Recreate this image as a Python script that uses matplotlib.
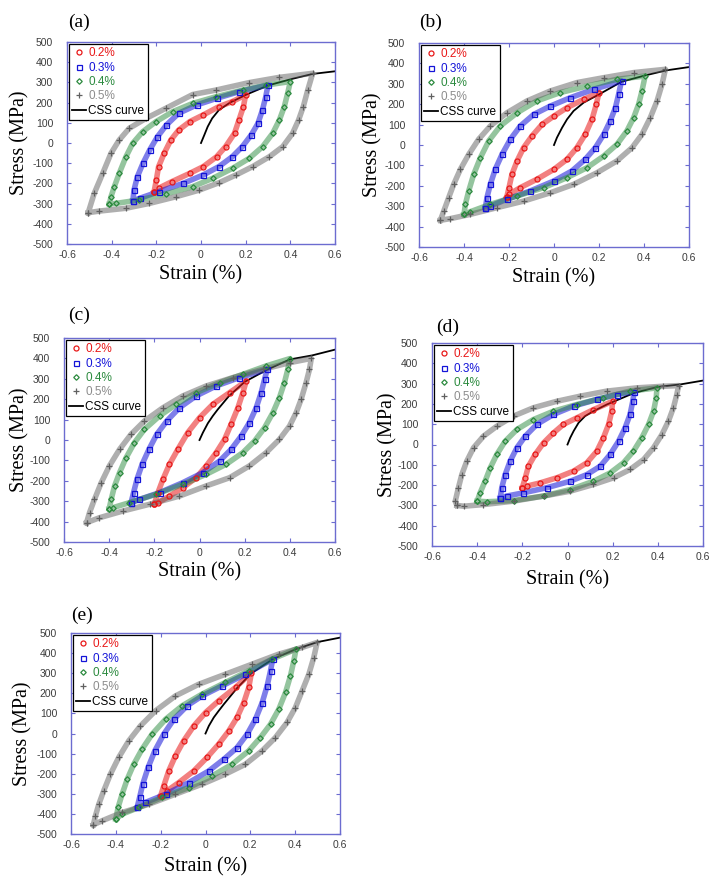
import numpy as np
import matplotlib
matplotlib.use("Agg")
import matplotlib.pyplot as plt
from matplotlib.lines import Line2D

plt.rcParams['axes.unicode_minus'] = False

amps = ["0.2%", "0.3%", "0.4%", "0.5%"]

# loops: loading branch (bottom tip -> top tip), then unloading branch back
strain_a = {
    "0.2%": [-0.21, -0.20, -0.19, -0.165, -0.135, -0.10, -0.05, 0.01, 0.08, 0.14, 0.20,
             0.19, 0.17, 0.15, 0.11, 0.07, 0.01, -0.05, -0.13, -0.19, -0.21],
    "0.3%": [-0.305, -0.30, -0.285, -0.26, -0.23, -0.195, -0.155, -0.10, -0.02, 0.07, 0.17, 0.30,
             0.29, 0.275, 0.255, 0.225, 0.185, 0.14, 0.08, 0.01, -0.08, -0.19, -0.275, -0.305],
    "0.4%": [-0.41, -0.403, -0.388, -0.366, -0.336, -0.306, -0.261, -0.201, -0.127, -0.037, 0.067, 0.187, 0.291, 0.40,
             0.388, 0.373, 0.351, 0.321, 0.276, 0.216, 0.142, 0.052, -0.037, -0.157, -0.276, -0.381, -0.41],
    "0.5%": [-0.505, -0.478, -0.44, -0.403, -0.366, -0.321, -0.246, -0.157, -0.037, 0.067, 0.216, 0.351, 0.50,
             0.478, 0.458, 0.437, 0.41, 0.366, 0.306, 0.231, 0.157, 0.082, -0.007, -0.112, -0.231, -0.336, -0.455, -0.505],
}
stress_a = {
    "0.2%": [-241, -183, -117, -51, 15, 64, 106, 139, 180, 205, 238,
             180, 114, 48, -18, -68, -117, -150, -191, -224, -241],
    "0.3%": [-285, -233, -167, -101, -35, 31, 89, 147, 188, 221, 254, 287,
             229, 163, 97, 40, -18, -68, -117, -158, -200, -241, -274, -285],
    "0.4%": [-302, -266, -216, -150, -68, -2, 56, 106, 155, 196, 229, 262, 287, 304,
             246, 180, 114, 48, -18, -76, -125, -175, -216, -252, -282, -299, -302],
    "0.5%": [-345, -249, -150, -51, 15, 73, 122, 172, 240, 262, 299, 325, 345,
             262, 180, 114, 48, -18, -68, -117, -158, -196, -233, -266, -299, -323, -337, -345],
}
css_strain_a = [0, 0.015, 0.03, 0.05, 0.08, 0.13, 0.20, 0.30, 0.41, 0.50, 0.60]
css_stress_a = [0, 40, 81, 122, 163, 200, 238, 285, 318, 342, 355]

strain_b = {
    "0.2%": [-0.21, -0.20, -0.187, -0.164, -0.135, -0.098, -0.053, 0.0, 0.058, 0.132, 0.20,
             0.188, 0.169, 0.139, 0.102, 0.058, 0.0, -0.076, -0.15, -0.20, -0.21],
    "0.3%": [-0.305, -0.298, -0.283, -0.261, -0.231, -0.194, -0.15, -0.09, -0.016, 0.073, 0.176, 0.30,
             0.287, 0.273, 0.25, 0.221, 0.184, 0.139, 0.08, 0.0, -0.105, -0.209, -0.283, -0.305],
    "0.4%": [-0.40, -0.394, -0.379, -0.357, -0.327, -0.29, -0.239, -0.164, -0.076, 0.028, 0.147, 0.28, 0.405,
             0.391, 0.376, 0.354, 0.324, 0.28, 0.221, 0.147, 0.058, -0.046, -0.164, -0.283, -0.372, -0.40],
    "0.5%": [-0.505, -0.49, -0.468, -0.446, -0.416, -0.379, -0.335, -0.283, -0.209, -0.12, -0.016, 0.102, 0.221, 0.354, 0.495,
             0.48, 0.458, 0.428, 0.391, 0.347, 0.28, 0.191, 0.087, -0.016, -0.135, -0.253, -0.372, -0.461, -0.505],
}
stress_b = {
    "0.2%": [-255, -209, -144, -78, -13, 44, 101, 142, 183, 224, 257,
             199, 126, 52, -13, -70, -119, -168, -209, -242, -255],
    "0.3%": [-307, -258, -193, -119, -46, 28, 93, 150, 191, 232, 273, 314,
             248, 183, 118, 52, -13, -70, -127, -176, -225, -266, -299, -307],
    "0.4%": [-340, -291, -225, -144, -62, 20, 93, 158, 216, 257, 289, 322, 338,
             265, 199, 134, 69, 3, -54, -111, -160, -209, -250, -291, -327, -340],
    "0.5%": [-369, -324, -258, -193, -119, -46, 28, 93, 158, 216, 265, 306, 330, 355, 371,
             297, 216, 134, 52, -13, -78, -136, -193, -234, -275, -307, -340, -361, -369],
}
css_strain_b = [0, 0.013, 0.036, 0.058, 0.087, 0.132, 0.20, 0.30, 0.405, 0.50, 0.60]
css_stress_b = [0, 36, 85, 126, 167, 208, 248, 310, 341, 366, 382]

strain_c = {
    "0.2%": [-0.20, -0.184, -0.162, -0.133, -0.096, -0.052, 0.0, 0.059, 0.133, 0.207,
             0.192, 0.17, 0.14, 0.111, 0.074, 0.03, -0.015, -0.074, -0.133, -0.184, -0.20],
    "0.3%": [-0.303, -0.292, -0.277, -0.254, -0.224, -0.189, -0.145, -0.089, -0.015, 0.074, 0.177, 0.30,
             0.288, 0.273, 0.251, 0.221, 0.185, 0.14, 0.089, 0.015, -0.074, -0.177, -0.266, -0.303],
    "0.4%": [-0.40, -0.391, -0.376, -0.354, -0.325, -0.288, -0.244, -0.177, -0.103, -0.015, 0.089, 0.192, 0.295, 0.40,
             0.391, 0.376, 0.354, 0.325, 0.288, 0.244, 0.192, 0.118, 0.03, -0.074, -0.192, -0.31, -0.384, -0.40],
    "0.5%": [-0.50, -0.487, -0.465, -0.435, -0.399, -0.354, -0.303, -0.244, -0.162, -0.074, 0.03, 0.148, 0.28, 0.399, 0.495,
             0.487, 0.472, 0.45, 0.428, 0.399, 0.354, 0.295, 0.221, 0.133, 0.03, -0.089, -0.221, -0.339, -0.443, -0.50],
}
stress_c = {
    "0.2%": [-315, -258, -193, -119, -46, 36, 109, 175, 232, 289,
             232, 158, 77, 3, -62, -127, -185, -234, -275, -307, -315],
    "0.3%": [-307, -258, -193, -119, -46, 28, 93, 158, 216, 265, 306, 346,
             297, 232, 158, 85, 20, -46, -103, -160, -209, -258, -291, -307],
    "0.4%": [-337, -291, -225, -160, -87, -13, 52, 118, 175, 232, 281, 322, 363, 399,
             346, 281, 208, 134, 60, -5, -62, -119, -168, -217, -266, -307, -332, -337],
    "0.5%": [-405, -356, -291, -209, -127, -46, 28, 93, 158, 216, 265, 306, 346, 379, 400,
             346, 281, 199, 134, 69, 3, -62, -127, -185, -225, -275, -315, -348, -381, -405],
}
css_strain_c = [0, 0.015, 0.037, 0.059, 0.081, 0.13, 0.20, 0.30, 0.40, 0.50, 0.60]
css_stress_c = [0, 36, 82, 118, 150, 215, 285, 345, 395, 415, 443]

strain_d = {
    "0.2%": [-0.20, -0.187, -0.173, -0.143, -0.106, -0.062, -0.018, 0.041, 0.115, 0.20,
             0.196, 0.182, 0.159, 0.13, 0.086, 0.027, -0.047, -0.121, -0.18, -0.20],
    "0.3%": [-0.298, -0.291, -0.276, -0.254, -0.224, -0.187, -0.136, -0.062, 0.027, 0.13, 0.218, 0.295,
             0.289, 0.277, 0.255, 0.226, 0.189, 0.145, 0.086, 0.012, -0.092, -0.195, -0.269, -0.298],
    "0.4%": [-0.40, -0.387, -0.365, -0.342, -0.313, -0.276, -0.224, -0.151, -0.062, 0.041, 0.159, 0.277, 0.396,
             0.393, 0.381, 0.359, 0.329, 0.292, 0.248, 0.189, 0.115, 0.012, -0.106, -0.239, -0.357, -0.40],
    "0.5%": [-0.49, -0.497, -0.483, -0.468, -0.446, -0.416, -0.372, -0.313, -0.239, -0.151, -0.047, 0.056, 0.174, 0.307, 0.425, 0.492,
             0.484, 0.469, 0.447, 0.418, 0.381, 0.337, 0.277, 0.204, 0.115, 0.012, -0.106, -0.239, -0.372, -0.46, -0.49],
}
stress_d = {
    "0.2%": [-213, -164, -107, -49, 8, 57, 99, 131, 172, 213,
             164, 99, 33, -33, -90, -131, -164, -189, -205, -213],
    "0.3%": [-263, -213, -148, -82, -16, 41, 99, 148, 189, 222, 246, 259,
             213, 148, 82, 16, -49, -107, -148, -181, -213, -238, -254, -263],
    "0.4%": [-279, -238, -181, -115, -49, 16, 74, 123, 164, 197, 230, 263, 279,
             230, 164, 99, 33, -33, -90, -140, -181, -222, -254, -276, -282, -279],
    "0.5%": [-300, -279, -213, -148, -82, -16, 41, 90, 140, 181, 213, 238, 263, 279, 287, 290,
             246, 181, 115, 49, -16, -74, -123, -164, -197, -230, -254, -279, -296, -304, -300],
}
css_strain_d = [0, 0.012, 0.027, 0.049, 0.078, 0.115, 0.174, 0.295, 0.40, 0.50, 0.60]
css_stress_d = [0, 33, 66, 107, 140, 164, 197, 254, 284, 296, 315]

strain_e = {
    "0.2%": [-0.20, -0.186, -0.164, -0.134, -0.097, -0.052, 0.0, 0.059, 0.134, 0.205,
             0.193, 0.171, 0.141, 0.104, 0.059, 0.007, -0.052, -0.119, -0.171, -0.20],
    "0.3%": [-0.305, -0.294, -0.28, -0.256, -0.226, -0.186, -0.141, -0.082, -0.015, 0.074, 0.178, 0.30,
             0.29, 0.275, 0.253, 0.223, 0.186, 0.141, 0.082, 0.015, -0.074, -0.178, -0.268, -0.305],
    "0.4%": [-0.40, -0.39, -0.372, -0.349, -0.32, -0.283, -0.238, -0.178, -0.104, -0.015, 0.089, 0.193, 0.297, 0.404,
             0.394, 0.379, 0.357, 0.327, 0.29, 0.245, 0.193, 0.119, 0.03, -0.074, -0.193, -0.297, -0.372, -0.40],
    "0.5%": [-0.50, -0.491, -0.476, -0.454, -0.424, -0.387, -0.342, -0.29, -0.223, -0.134, -0.03, 0.089, 0.208, 0.327, 0.431, 0.498,
             0.483, 0.461, 0.431, 0.401, 0.364, 0.312, 0.253, 0.178, 0.089, -0.015, -0.134, -0.253, -0.372, -0.461, -0.50],
}
stress_e = {
    "0.2%": [-310, -260, -186, -111, -36, 38, 104, 163, 229, 303,
             229, 154, 80, 13, -53, -119, -186, -244, -285, -310],
    "0.3%": [-368, -318, -252, -169, -86, -3, 71, 138, 187, 237, 295, 370,
             312, 237, 154, 71, -3, -70, -128, -186, -244, -302, -343, -368],
    "0.4%": [-426, -368, -302, -227, -153, -78, -3, 71, 138, 196, 254, 312, 370, 420,
             362, 287, 204, 121, 46, -20, -86, -153, -211, -269, -318, -368, -401, -426],
    "0.5%": [-454, -410, -352, -285, -202, -119, -36, 38, 113, 187, 245, 295, 345, 395, 428, 453,
             378, 295, 212, 129, 55, -20, -86, -153, -202, -252, -302, -352, -393, -434, -454],
}
css_strain_e = [0, 0.015, 0.037, 0.059, 0.082, 0.14, 0.205, 0.30, 0.404, 0.50, 0.60]
css_stress_e = [0, 38, 80, 113, 146, 225, 300, 370, 420, 455, 477]

x_ticks = [-0.6, -0.4, -0.2, 0, 0.2, 0.4, 0.6]
x_ticklabels = ["-0.6", "-0.4", "-0.2", "0", "0.2", "0.4", "0.6"]
y_ticks = [-500, -400, -300, -200, -100, 0, 100, 200, 300, 400, 500]

# style
colors = {"0.2%": "#e81818", "0.3%": "#1414d8", "0.4%": "#2b8a3e", "0.5%": "#606060"}
band_alpha = {"0.2%": 0.55, "0.3%": 0.55, "0.4%": 0.5, "0.5%": 0.5}
text_colors = {"0.2%": "#e81818", "0.3%": "#1414d8", "0.4%": "#2b8a3e", "0.5%": "#8c8c8c"}
markers = {"0.2%": "o", "0.3%": "s", "0.4%": "D", "0.5%": "+"}
msizes = {"0.2%": 3.6, "0.3%": 3.6, "0.4%": 2.8, "0.5%": 4.5}
spine_col = "#6c6cd0"
W, H = 725.0, 883.0


def draw_panel(fig, box, strain, stress, css_x, css_y, tag, tag_xy, ylab_x, xlab_y):
	left, right, top, bottom = box
	ax = fig.add_axes([left / W, 1 - bottom / H, (right - left) / W, (bottom - top) / H])
	ax.plot(css_x, css_y, color="black", lw=1.3, zorder=2)
	for a in amps:
		c = colors[a]
		ax.plot(strain[a], stress[a], color=c, lw=4.0, alpha=band_alpha[a],
			solid_joinstyle="round", zorder=3)
		ax.plot(strain[a], stress[a], ls="none", marker=markers[a], ms=msizes[a],
			mfc="none", mec=c, mew=0.9, zorder=4)
	ax.set_xlim(-0.6, 0.6)
	ax.set_ylim(-500, 500)
	ax.set_xticks(x_ticks)
	ax.set_xticklabels(x_ticklabels)
	ax.set_yticks(y_ticks)
	ax.tick_params(direction="in", length=3, width=0.8, color=spine_col,
		top=True, right=True, labelsize=7.5, labelcolor="#3c3c3c")
	ax.tick_params(axis="y", pad=10)
	ax.tick_params(axis="x", pad=4)
	for lab in ax.get_xticklabels() + ax.get_yticklabels():
		lab.set_family("Liberation Sans")
	for s in ax.spines.values():
		s.set_color(spine_col)
		s.set_linewidth(1.0)
	ax.set_ylabel("Stress (MPa)", family="Liberation Serif", fontsize=14.5)
	ax.yaxis.set_label_coords(ylab_x, 0.5)
	ax.set_xlabel("Strain (%)", family="Liberation Serif", fontsize=14.5)
	ax.xaxis.set_label_coords(0.5, xlab_y)

	handles = []
	for a in amps:
		handles.append(Line2D([], [], ls="none", marker=markers[a], ms=msizes[a],
			mfc="none", mec=colors[a], mew=0.9))
	handles.append(Line2D([], [], color="black", lw=1.3))
	leg = ax.legend(handles, amps + ["CSS curve"], loc="upper left", bbox_to_anchor=(0.0, 1.0),
		borderaxespad=0.15, labelspacing=0.2, borderpad=0.3,
		handlelength=1.15, handletextpad=0.2, fancybox=False, framealpha=1,
		edgecolor="black", prop={"family": "Liberation Sans", "size": 8.5})
	leg.get_frame().set_linewidth(0.9)
	for t, a in zip(leg.get_texts(), amps + ["CSS curve"]):
		t.set_color(text_colors.get(a, "black"))
	fig.text(tag_xy[0] / W, 1 - tag_xy[1] / H, tag, family="Liberation Serif",
		fontsize=14, ha="center", va="center")
	return ax


fig = plt.figure(figsize=(7.25, 8.83), dpi=100)
draw_panel(fig, (67, 335, 42, 244), strain_a, stress_a, css_strain_a, css_stress_a,
	"(a)", (79, 22), -0.14, -0.104)
draw_panel(fig, (419, 689, 43, 247), strain_b, stress_b, css_strain_b, css_stress_b,
	"(b)", (431, 22), -0.135, -0.103)
draw_panel(fig, (64, 335, 338, 542), strain_c, stress_c, css_strain_c, css_stress_c,
	"(c)", (79, 315), -0.128, -0.098)
draw_panel(fig, (432, 703, 343, 546), strain_d, stress_d, css_strain_d, css_stress_d,
	"(d)", (448, 327), -0.128, -0.118)
draw_panel(fig, (71, 340, 633, 834), strain_e, stress_e, css_strain_e, css_stress_e,
	"(e)", (82, 615), -0.142, -0.114)

fig.savefig("out.png", dpi=100)
